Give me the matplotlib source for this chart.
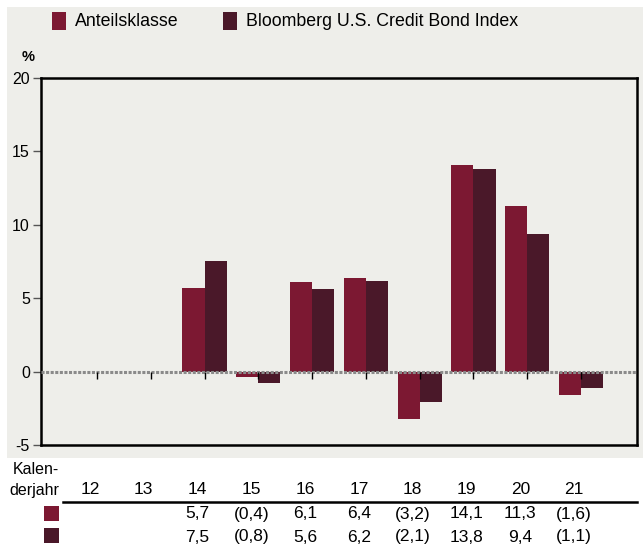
import numpy as np
import matplotlib
matplotlib.use('Agg')
from matplotlib import pyplot as plt
from matplotlib.patches import Rectangle
from matplotlib.lines import Line2D
import matplotlib.transforms as mtransforms

plt.rcParams['font.family'] = ['Liberation Sans', 'DejaVu Sans']

# data
years = ['12', '13', '14', '15', '16', '17', '18', '19', '20', '21']
fund = [np.nan, np.nan, 5.7, -0.4, 6.1, 6.4, -3.2, 14.1, 11.3, -1.6]
index = [np.nan, np.nan, 7.5, -0.8, 5.6, 6.2, -2.1, 13.8, 9.4, -1.1]
fund_lbl = ['', '', '5,7', '(0,4)', '6,1', '6,4', '(3,2)', '14,1', '11,3', '(1,6)']
index_lbl = ['', '', '7,5', '(0,8)', '5,6', '6,2', '(2,1)', '13,8', '9,4', '(1,1)']
series_names = ['Anteilsklasse', 'Bloomberg U.S. Credit Bond Index']

C_FUND = '#7C1832'
C_INDEX = '#4A1829'
BG = '#EEEEEA'

W, H = 643, 546
fig = plt.figure(figsize=(W / 100, H / 100), dpi=100)
fig.patch.set_facecolor('white')

def fx(px):
    return px / W

def fy(py):
    return 1 - py / H

# grey panel behind legend + chart
fig.patches.append(Rectangle((fx(7), fy(458)), fx(643) - fx(7), fy(7) - fy(458),
                             transform=fig.transFigure, facecolor=BG,
                             edgecolor='none', zorder=-5))

ax = fig.add_axes([fx(41), fy(445), fx(637) - fx(41), fy(78) - fy(445)])
ax.set_facecolor(BG)

x = np.arange(len(years))
bw = 0.41
ax.bar(x - bw / 2, fund, bw, color=C_FUND, zorder=2)
ax.bar(x + bw / 2, index, bw, color=C_INDEX, zorder=2)

ax.axhline(0, color='#8a8a8a', lw=2.2, ls=(0, (1, 0.5)), zorder=3)
ax.plot(x, np.zeros(len(x)), ls='none', marker=3, markersize=5,
        color='black', mew=1.0, zorder=4)

ax.set_xlim(-1.04, 10.04)
ax.set_ylim(-5, 20)
ax.set_yticks([-5, 0, 5, 10, 15, 20])
ax.set_yticklabels(['-5', '0', '5', '10', '15', '20'])
ax.set_xticks([])
ax.tick_params(axis='y', length=6, width=1, color='#555555', labelsize=11.5, pad=2)
for s in ax.spines.values():
    s.set_linewidth(1.8)
fig.text(fx(22), fy(57), '%', fontsize=10.5, fontweight='bold', ha='left', va='center')

# legend
for px0, name, col in [(52, series_names[0], C_FUND), (223, series_names[1], C_INDEX)]:
    fig.patches.append(Rectangle((fx(px0), fy(30)), fx(14), fy(12) - fy(30),
                                 transform=fig.transFigure, facecolor=col,
                                 edgecolor='none'))
    fig.text(fx(px0 + 23), fy(21), name, fontsize=12.8, ha='left', va='center')

# table below the chart
tr = mtransforms.blended_transform_factory(ax.transData, fig.transFigure)
off = -0.13
for i in range(len(years)):
    fig.text(x[i] + off, fy(490), years[i], transform=tr, fontsize=12.5,
             ha='center', va='center')
    fig.text(x[i] + off, fy(514), fund_lbl[i], transform=tr, fontsize=12.5,
             ha='center', va='center')
    fig.text(x[i] + off, fy(537), index_lbl[i], transform=tr, fontsize=12.5,
             ha='center', va='center')
fig.text(fx(36), fy(469), 'Kalen-', fontsize=11.5, ha='center', va='center')
fig.text(fx(34), fy(491), 'derjahr', fontsize=11.5, ha='center', va='center')
fig.lines.append(Line2D([fx(63), fx(637)], [fy(502), fy(502)],
                        transform=fig.transFigure, color='black', lw=1.8))
for py0, col in [(506, C_FUND), (528, C_INDEX)]:
    fig.patches.append(Rectangle((fx(44), fy(py0 + 15)), fx(15), fy(py0) - fy(py0 + 15),
                                 transform=fig.transFigure, facecolor=col,
                                 edgecolor='none'))

fig.savefig('out.png', dpi=100)
